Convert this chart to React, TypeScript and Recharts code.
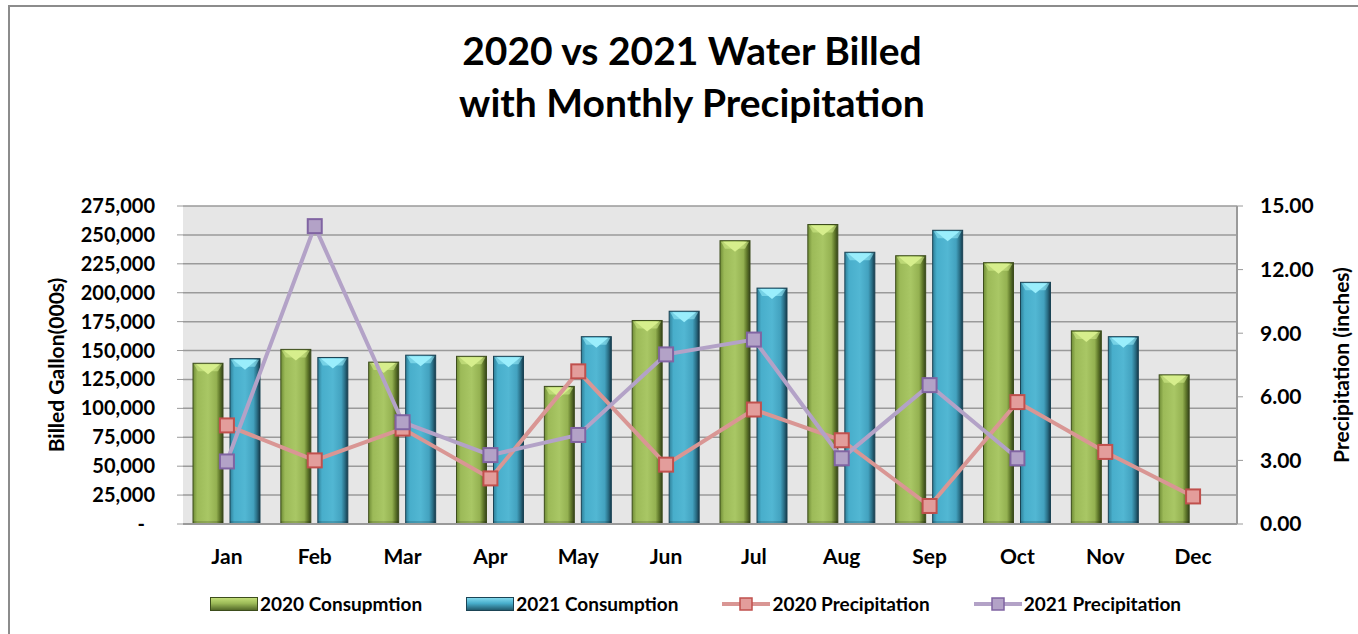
import {
  ComposedChart, Bar, Line, XAxis, YAxis, CartesianGrid, Legend,
} from 'recharts';

const FONT = 'Lato, "Noto Sans", sans-serif';

const months = ['Jan', 'Feb', 'Mar', 'Apr', 'May', 'Jun', 'Jul', 'Aug', 'Sep', 'Oct', 'Nov', 'Dec'];
const consumption2020 = [139000, 151000, 140000, 145000, 119000, 176000, 245000, 259000, 232000, 226000, 167000, 129000];
const consumption2021 = [143000, 144000, 146000, 145000, 162000, 184000, 204000, 235000, 254000, 209000, 162000, null];
const precip2020 = [4.65, 3.0, 4.5, 2.15, 7.2, 2.8, 5.4, 3.95, 0.85, 5.75, 3.4, 1.3];
const precip2021 = [2.95, 14.05, 4.8, 3.25, 4.2, 8.0, 8.7, 3.1, 6.55, 3.1, null, null];

const leftTicks = [0, 25000, 50000, 75000, 100000, 125000, 150000, 175000, 200000, 225000, 250000, 275000];
const rightTicks = [0, 3, 6, 9, 12, 15];

const SERIES_ORDER = ['c2020', 'c2021', 'p2020', 'p2021'];

const data = months.map((m, i) => ({
  month: m,
  c2020: consumption2020[i],
  c2021: consumption2021[i],
  p2020: precip2020[i],
  p2021: precip2021[i],
}));

const PAL = {
  c2020: { grad: 'gGreen', leg: 'gGreenLeg', top: '#d6ee8c', stroke: '#3d4d1c' },
  c2021: { grad: 'gBlue', leg: 'gBlueLeg', top: '#9aeefc', stroke: '#1b4455' },
};
const LINE = {
  p2020: { stroke: '#d99694', fill: '#e39d9b', edge: '#c0504d' },
  p2021: { stroke: '#b3a2c7', fill: '#b3a2c7', edge: '#8064a2' },
};

const tickStyle = { fontSize: 20, fontWeight: 700, fill: '#000', fontFamily: FONT };

function BevelBar(props: any) {
  const { x, y, width: w, height: h, pal } = props;
  if (!h || h <= 0) return null;
  const b = 5;
  return (
    <g>
      <rect x={x} y={y} width={w} height={h} fill={`url(#${pal.grad})`} stroke={pal.stroke} strokeWidth={1} />
      <polygon points={`${x + 1},${y + 1} ${x + w - 1},${y + 1} ${x + w - b},${y + b + 3} ${x + b},${y + b + 3}`} fill={pal.top} opacity={0.55} />
      <polygon points={`${x + 3},${y + 1} ${x + w - 3},${y + 1} ${x + w / 2},${y + 11}`} fill={pal.top} />
      <rect x={x} y={y + h - 3} width={w} height={3} fill="#000" opacity={0.15} />
    </g>
  );
}

function squareDot(key: 'p2020' | 'p2021') {
  return (p: any) => {
    if (p.cy == null || p.value == null) return <g key={`${key}-${p.index}`} />;
    const c = LINE[key];
    return (
      <rect key={`${key}-${p.index}`} x={p.cx - 7} y={p.cy - 7} width={14} height={14}
        fill={c.fill} stroke={c.edge} strokeWidth={2} />
    );
  };
}

function LeftTick(props: any) {
  const { x, y, payload } = props;
  const v = payload.value;
  return (
    <text x={v === 0 ? x - 10 : x} y={y} dy="0.35em" textAnchor="end" style={tickStyle}>
      {v === 0 ? '-' : v.toLocaleString('en-US')}
    </text>
  );
}

function LegendContent(props: any) {
  const items = [...(props.payload || [])].sort(
    (a: any, b: any) => SERIES_ORDER.indexOf(a.dataKey) - SERIES_ORDER.indexOf(b.dataKey),
  );
  return (
    <div style={{ display: 'flex', alignItems: 'center', fontFamily: FONT, fontWeight: 700, fontSize: 19, color: '#000', whiteSpace: 'nowrap' }}>
      {items.map((e: any) => {
        const k = e.dataKey as string;
        const isBar = k === 'c2020' || k === 'c2021';
        return (
          <div key={k} style={{ display: 'flex', alignItems: 'center', marginRight: 44 }}>
            <svg width={48} height={16} style={{ marginRight: 2 }}>
              {isBar ? (
                <rect x={0.5} y={1.5} width={47} height={13} fill={`url(#${(PAL as any)[k].leg})`} stroke={(PAL as any)[k].stroke} strokeWidth={1} />
              ) : (
                <g>
                  <line x1={0} y1={8} x2={48} y2={8} stroke={(LINE as any)[k].stroke} strokeWidth={4} />
                  <rect x={18} y={2} width={12} height={12} fill={(LINE as any)[k].fill} stroke={(LINE as any)[k].edge} strokeWidth={1.5} />
                </g>
              )}
            </svg>
            <span>{e.value}</span>
          </div>
        );
      })}
    </div>
  );
}

function AxisTitle({ viewBox, dx, text, size }: any) {
  const cx = viewBox.x + dx;
  const cy = viewBox.y + viewBox.height / 2;
  return (
    <text x={cx} y={cy} transform={`rotate(-90, ${cx}, ${cy})`} textAnchor="middle" dominantBaseline="central"
      style={{ fontSize: size, fontWeight: 700, fill: '#000', fontFamily: FONT }}>
      {text}
    </text>
  );
}

export default function App() {
  return (
    <div style={{ position: 'absolute', left: 0, top: 0, width: 1358, height: 634, overflow: 'hidden', background: '#fff', fontFamily: FONT }}>
      <div style={{ position: 'absolute', left: 8, top: 5, width: 1400, height: 700, border: '2px solid #8c8c8c', boxSizing: 'border-box' }} />
      <div style={{ position: 'absolute', left: 192, top: 24, width: 1000, textAlign: 'center', fontSize: 39, fontWeight: 700, lineHeight: '52px', color: '#000' }}>
        2020 vs 2021 Water Billed<br />with Monthly Precipitation
      </div>
      <div style={{ position: 'absolute', left: 0, top: 0 }}>
        <ComposedChart width={1358} height={634} data={data} margin={{ top: 206, right: 11, bottom: 80, left: 40 }}
          barSize={30} barGap={7}>
          <defs>
            <linearGradient id="gGreen" x1="0" y1="0" x2="1" y2="0">
              <stop offset="0%" stopColor="#6f8c36" />
              <stop offset="14%" stopColor="#9cba58" />
              <stop offset="50%" stopColor="#a9c765" />
              <stop offset="78%" stopColor="#94b151" />
              <stop offset="90%" stopColor="#5d7529" />
              <stop offset="100%" stopColor="#34421a" />
            </linearGradient>
            <linearGradient id="gBlue" x1="0" y1="0" x2="1" y2="0">
              <stop offset="0%" stopColor="#2f7f98" />
              <stop offset="14%" stopColor="#48aecb" />
              <stop offset="50%" stopColor="#52b7d3" />
              <stop offset="78%" stopColor="#43a2bf" />
              <stop offset="90%" stopColor="#2a6f86" />
              <stop offset="100%" stopColor="#16394a" />
            </linearGradient>
            <linearGradient id="gGreenLeg" x1="0" y1="0" x2="0" y2="1">
              <stop offset="0%" stopColor="#c5e07a" />
              <stop offset="45%" stopColor="#9cba58" />
              <stop offset="100%" stopColor="#4f6426" />
            </linearGradient>
            <linearGradient id="gBlueLeg" x1="0" y1="0" x2="0" y2="1">
              <stop offset="0%" stopColor="#86dcf0" />
              <stop offset="45%" stopColor="#48aecb" />
              <stop offset="100%" stopColor="#1f5567" />
            </linearGradient>
          </defs>
          <CartesianGrid vertical={false} fill="#e6e6e6" stroke="#9a9a9a" strokeWidth={1.5} yAxisId="left" />
          <XAxis dataKey="month" tickLine={false} axisLine={{ stroke: '#9a9a9a', strokeWidth: 2 }}
            tick={{ ...tickStyle, fontSize: 21 }} tickMargin={19} interval={0} />
          <YAxis yAxisId="left" width={143} domain={[0, 275000]} ticks={leftTicks} interval={0}
            axisLine={false} tickLine={{ stroke: '#9a9a9a' }} tickSize={6} tickMargin={22} tick={<LeftTick />}
            label={<AxisTitle dx={15} size={21} text="Billed Gallon(000s)" />} />
          <YAxis yAxisId="right" orientation="right" width={110} domain={[0, 15]} ticks={rightTicks} interval={0}
            axisLine={{ stroke: '#9a9a9a', strokeWidth: 2 }} tickLine={{ stroke: '#9a9a9a' }} tickSize={6} tickMargin={17}
            tick={{ ...tickStyle, fontSize: 21, textAnchor: 'start' }} tickFormatter={(v: number) => v.toFixed(2)}
            label={<AxisTitle dx={103} size={21} text="Precipitation (inches)" />} />
          <Bar yAxisId="left" dataKey="c2020" name="2020 Consupmtion" fill="#9bbb59" legendType="rect"
            isAnimationActive={false} shape={(p: any) => <BevelBar {...p} pal={PAL.c2020} />} />
          <Bar yAxisId="left" dataKey="c2021" name="2021 Consumption" fill="#4bacc6" legendType="rect"
            isAnimationActive={false} shape={(p: any) => <BevelBar {...p} pal={PAL.c2021} />} />
          <Line yAxisId="right" type="linear" dataKey="p2020" name="2020 Precipitation" stroke={LINE.p2020.stroke}
            strokeWidth={4} dot={squareDot('p2020')} activeDot={false} legendType="line" isAnimationActive={false} />
          <Line yAxisId="right" type="linear" dataKey="p2021" name="2021 Precipitation" stroke={LINE.p2021.stroke}
            strokeWidth={4} dot={squareDot('p2021')} activeDot={false} legendType="line" isAnimationActive={false} />
          <Legend layout="horizontal" verticalAlign="middle" align="center" content={<LegendContent />}
            wrapperStyle={{ top: 592, left: 210, width: 'auto' }} />
        </ComposedChart>
      </div>
    </div>
  );
}
